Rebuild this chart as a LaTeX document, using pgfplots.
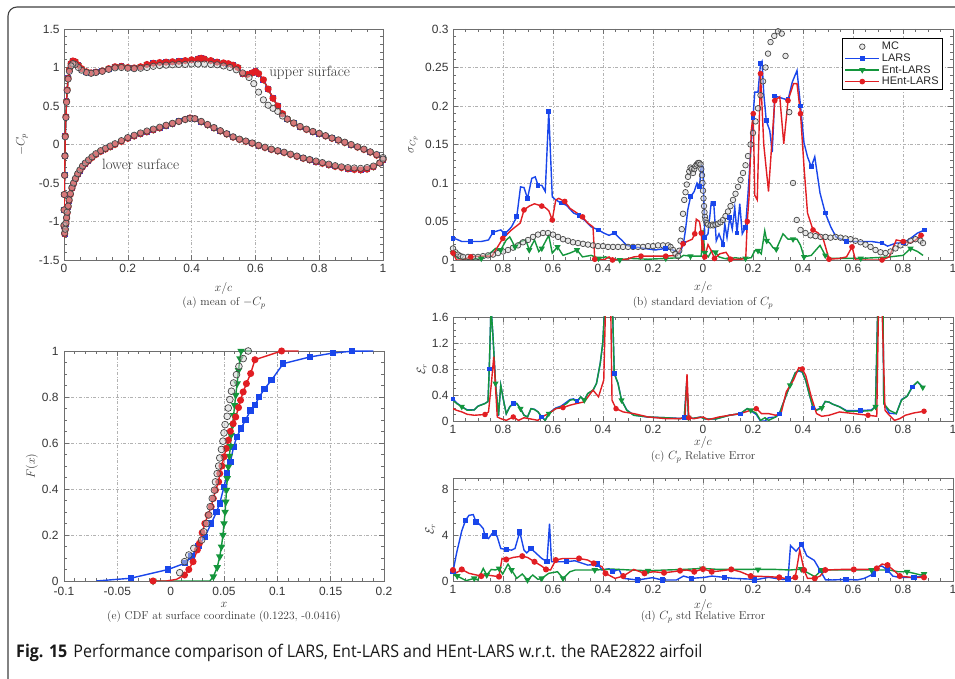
\documentclass[border=0pt]{standalone}
\usepackage{fontspec}
\usepackage{pgfplots}
\usepackage{pgfplotstable}
\pgfplotsset{compat=1.18}
\newfontfamily\tickfont{Liberation Sans}
\newfontfamily\capfont[FakeStretch=0.92]{Open Sans}

\definecolor{lblue}{RGB}{25,70,235}
\definecolor{lgreen}{RGB}{20,150,60}
\definecolor{lred}{RGB}{225,30,35}
\definecolor{axgray}{RGB}{110,110,110}
\definecolor{txtgray}{RGB}{55,55,55}
\definecolor{mcedge}{RGB}{70,70,70}

\pgfplotsset{
  mstyle/.style={
    scale only axis,
    axis line style={axgray, line width=0.9bp},
    every tick/.style={axgray, line width=0.6bp},
    tick align=inside,
    tick pos=both,
    major tick length=5bp,
    minor tick length=3bp,
    grid=major,
    major grid style={dash dot, gray!60, line width=0.55bp},
    ticklabel style={font=\tickfont\fontsize{12}{12}\selectfont, text=txtgray},
    label style={font=\fontsize{12}{14}\selectfont, text=txtgray},
    xticklabel shift=1bp,
    yticklabel shift=1bp,
  },
  mcmark/.style={only marks, mark=*, mark size=#1,
    mark options={draw=mcedge, fill=gray!35, fill opacity=0.5, line width=0.7bp}},
  larsline/.style={lblue, line width=1.4bp, mark=square*, mark size=#1,
    mark options={solid, fill=lblue}},
  entline/.style={lgreen, line width=1.4bp, mark=triangle*, mark size=#1,
    mark options={solid, fill=lgreen, rotate=180}},
  hentline/.style={lred, line width=1.4bp, mark=*, mark size=#1,
    mark options={solid, fill=lred}},
}

% mean of -Cp along the airfoil (upper TE -> LE -> lower TE)
\pgfplotstableread{
x y
1.00 -0.17
0.98 -0.13
0.96 -0.095
0.94 -0.06
0.92 -0.03
0.90 0.00
0.88 0.03
0.86 0.06
0.84 0.085
0.82 0.115
0.80 0.145
0.78 0.17
0.76 0.20
0.74 0.235
0.72 0.28
0.70 0.33
0.685 0.37
0.67 0.43
0.655 0.47
0.64 0.51
0.625 0.58
0.61 0.68
0.595 0.79
0.58 0.87
0.56 0.93
0.54 0.97
0.52 1.00
0.50 1.02
0.48 1.035
0.46 1.04
0.44 1.045
0.42 1.045
0.40 1.045
0.38 1.04
0.36 1.04
0.34 1.035
0.32 1.03
0.30 1.025
0.28 1.015
0.26 1.00
0.24 0.99
0.22 0.985
0.20 0.99
0.18 1.00
0.16 0.995
0.14 0.975
0.12 0.95
0.10 0.935
0.085 0.925
0.07 0.935
0.055 0.965
0.045 1.00
0.035 1.04
0.028 1.05
0.022 1.02
0.017 0.95
0.013 0.85
0.010 0.70
0.008 0.55
0.006 0.35
0.004 0.10
0.003 -0.15
0.002 -0.40
0.001 -0.65
0.0005 -0.85
0.000 -1.05
0.002 -1.15
0.004 -1.10
0.006 -1.02
0.008 -0.95
0.010 -0.88
0.013 -0.80
0.016 -0.72
0.020 -0.64
0.025 -0.56
0.030 -0.50
0.036 -0.44
0.043 -0.38
0.050 -0.33
0.058 -0.28
0.067 -0.24
0.077 -0.20
0.088 -0.16
0.10 -0.12
0.115 -0.08
0.13 -0.05
0.145 -0.02
0.16 0.01
0.18 0.05
0.20 0.09
0.22 0.12
0.24 0.15
0.26 0.175
0.28 0.20
0.30 0.225
0.32 0.25
0.34 0.275
0.36 0.30
0.38 0.325
0.395 0.34
0.41 0.335
0.43 0.30
0.45 0.26
0.47 0.22
0.49 0.18
0.51 0.14
0.53 0.10
0.55 0.07
0.57 0.045
0.59 0.02
0.61 -0.01
0.63 -0.035
0.65 -0.06
0.67 -0.08
0.69 -0.10
0.71 -0.125
0.73 -0.15
0.75 -0.175
0.77 -0.195
0.79 -0.215
0.81 -0.235
0.83 -0.255
0.85 -0.275
0.87 -0.29
0.89 -0.30
0.91 -0.305
0.93 -0.31
0.95 -0.30
0.97 -0.28
0.99 -0.24
1.00 -0.19
}\meanMC

\pgfplotstableread{
x y
1.00 -0.19
0.98 -0.14
0.96 -0.10
0.94 -0.065
0.92 -0.035
0.90 -0.005
0.88 0.025
0.86 0.055
0.84 0.08
0.82 0.11
0.80 0.14
0.78 0.165
0.76 0.195
0.74 0.23
0.72 0.275
0.70 0.33
0.685 0.40
0.67 0.50
0.655 0.60
0.64 0.72
0.625 0.84
0.61 0.92
0.60 0.95
0.59 0.93
0.575 0.91
0.56 0.92
0.545 1.00
0.53 1.03
0.515 1.05
0.50 1.06
0.48 1.07
0.46 1.09
0.44 1.11
0.43 1.12
0.42 1.11
0.40 1.10
0.38 1.09
0.36 1.08
0.34 1.075
0.32 1.07
0.30 1.065
0.28 1.055
0.26 1.04
0.24 1.01
0.22 0.995
0.20 1.00
0.18 1.015
0.16 1.01
0.14 0.985
0.12 0.955
0.10 0.94
0.085 0.93
0.07 0.945
0.055 0.985
0.045 1.03
0.035 1.075
0.028 1.085
0.022 1.05
0.017 0.97
0.013 0.86
0.010 0.71
0.008 0.56
0.006 0.36
0.004 0.11
0.003 -0.15
0.002 -0.40
0.001 -0.65
0.0005 -0.85
0.000 -1.06
0.002 -1.16
0.004 -1.11
0.006 -1.03
0.008 -0.96
0.010 -0.89
0.013 -0.81
0.016 -0.73
0.020 -0.65
0.025 -0.57
0.030 -0.51
0.036 -0.45
0.043 -0.39
0.050 -0.34
0.058 -0.29
0.067 -0.25
0.077 -0.21
0.088 -0.17
0.10 -0.13
0.115 -0.09
0.13 -0.06
0.145 -0.03
0.16 0.00
0.18 0.04
0.20 0.08
0.22 0.11
0.24 0.14
0.26 0.165
0.28 0.19
0.30 0.215
0.32 0.245
0.34 0.27
0.36 0.30
0.38 0.325
0.395 0.345
0.41 0.335
0.43 0.295
0.45 0.255
0.47 0.215
0.49 0.175
0.51 0.135
0.53 0.095
0.55 0.065
0.57 0.04
0.59 0.015
0.61 -0.015
0.63 -0.04
0.65 -0.065
0.67 -0.085
0.69 -0.105
0.71 -0.13
0.73 -0.155
0.75 -0.18
0.77 -0.20
0.79 -0.225
0.81 -0.245
0.83 -0.265
0.85 -0.285
0.87 -0.30
0.89 -0.315
0.91 -0.325
0.93 -0.33
0.95 -0.32
0.97 -0.29
0.99 -0.24
1.00 -0.20
}\meanHE

\begin{document}
\begin{tikzpicture}[x=1bp,y=1bp]
\useasboundingbox (0,0) rectangle (955,679);
\fill[white] (0,0) rectangle (955,679);
\draw[black!75, line width=1.1bp, rounded corners=9bp] (8,-3) -- (8,672) -- (970,672);

% ---------------- (a) mean of -Cp ----------------
\begin{axis}[mstyle, at={(64bp,419bp)}, anchor=south west, width=319bp, height=231bp,
  xmin=0, xmax=1, ymin=-1.5, ymax=1.5,
  xtick={0,0.2,0.4,0.6,0.8,1}, xticklabels={0,0.2,0.4,0.6,0.8,1},
  ytick={-1.5,-1,-0.5,0,0.5,1,1.5}, yticklabels={-1.5,-1,-0.5,0,0.5,1,1.5},
  minor x tick num=3, minor y tick num=4,
  xlabel={$x/c$}, ylabel={$-C_p$},
  xlabel style={at={(axis description cs:0.5,-0.125)}, anchor=center},
  ylabel style={at={(axis description cs:-0.132,0.5)}, anchor=center},
]
\addplot[larsline=2.2] table[x=x,y=y] {\meanHE};
\addplot[entline=2.6] table[x=x,y=y] {\meanHE};
\addplot[hentline=2.8] table[x=x,y=y] {\meanHE};
\addplot[mcmark=3.2] table[x=x,y=y] {\meanMC};
\node[font=\fontsize{15}{17}\selectfont, text=black!80] at (axis cs:0.77,0.93) {upper surface};
\node[font=\fontsize{15}{17}\selectfont, text=black!80] at (axis cs:0.24,-0.26) {lower surface};
\end{axis}
\node[font=\fontsize{11.5}{13}\selectfont, text=txtgray] at (224,376) {(a) mean of $-C_p$};

% ---------------- (b) standard deviation of Cp ----------------
\begin{axis}[mstyle, at={(453bp,419bp)}, anchor=south west, width=500bp, height=231bp,
  xmin=-1, xmax=1, ymin=0, ymax=0.3,
  xtick={-1,-0.8,-0.6,-0.4,-0.2,0,0.2,0.4,0.6,0.8,1},
  xticklabels={1,0.8,0.6,0.4,0.2,0,0.2,0.4,0.6,0.8,1},
  ytick={0,0.05,0.1,0.15,0.2,0.25,0.3}, yticklabels={0,0.05,0.1,0.15,0.2,0.25,0.3},
  minor x tick num=3, minor y tick num=4,
  xlabel={$x/c$}, ylabel={$\sigma_{C_p}$},
  xlabel style={at={(axis description cs:0.5,-0.121)}, anchor=center},
  ylabel style={at={(axis description cs:-0.08,0.5)}, anchor=center},
  legend style={at={(0.98,0.96)}, anchor=north east, draw=black, line width=0.8bp,
    font=\tickfont\fontsize{11}{12}\selectfont, text=black!85, row sep=-1.5bp,
    inner xsep=2bp, inner ysep=1.5bp, cells={anchor=west}},
  legend image code/.code={\draw[mark repeat=2, mark phase=2, #1] plot coordinates {(0bp,0bp) (17bp,0bp) (34bp,0bp)};},
]
\addplot[mcmark=2.8] table {
-1.000 0.015
-0.990 0.010
-0.980 0.007
-0.970 0.005
-0.960 0.004
-0.940 0.004
-0.920 0.004
-0.900 0.004
-0.880 0.005
-0.860 0.006
-0.840 0.007
-0.820 0.009
-0.800 0.011
-0.780 0.013
-0.760 0.016
-0.740 0.019
-0.720 0.023
-0.700 0.026
-0.680 0.030
-0.660 0.033
-0.640 0.035
-0.620 0.035
-0.600 0.033
-0.580 0.030
-0.560 0.027
-0.540 0.025
-0.520 0.023
-0.500 0.022
-0.480 0.021
-0.460 0.020
-0.440 0.019
-0.420 0.018
-0.400 0.018
-0.380 0.017
-0.360 0.017
-0.340 0.017
-0.320 0.017
-0.300 0.017
-0.280 0.017
-0.260 0.017
-0.240 0.017
-0.220 0.018
-0.200 0.018
-0.180 0.019
-0.160 0.019
-0.140 0.019
-0.130 0.017
-0.120 0.013
-0.110 0.008
-0.100 0.005
-0.095 0.012
-0.090 0.025
-0.085 0.040
-0.080 0.060
-0.075 0.078
-0.070 0.088
-0.065 0.098
-0.060 0.108
-0.055 0.115
-0.050 0.120
-0.045 0.118
-0.040 0.113
-0.035 0.118
-0.030 0.122
-0.025 0.124
-0.020 0.126
-0.015 0.126
-0.010 0.124
-0.007 0.118
-0.004 0.110
-0.002 0.100
0.000 0.090
0.002 0.080
0.004 0.070
0.006 0.062
0.008 0.056
0.010 0.052
0.015 0.048
0.020 0.046
0.030 0.045
0.040 0.045
0.050 0.046
0.060 0.047
0.070 0.049
0.080 0.052
0.090 0.057
0.100 0.063
0.110 0.070
0.120 0.078
0.130 0.086
0.140 0.095
0.150 0.104
0.160 0.113
0.170 0.123
0.180 0.135
0.190 0.150
0.200 0.165
0.210 0.180
0.220 0.197
0.230 0.214
0.240 0.232
0.250 0.250
0.260 0.268
0.270 0.283
0.285 0.291
0.300 0.297
0.315 0.294
0.330 0.265
0.345 0.192
0.360 0.100
0.375 0.052
0.390 0.039
0.410 0.035
0.430 0.032
0.450 0.031
0.470 0.030
0.490 0.030
0.510 0.029
0.530 0.030
0.550 0.029
0.570 0.028
0.590 0.027
0.610 0.025
0.630 0.023
0.650 0.020
0.670 0.017
0.690 0.013
0.710 0.010
0.730 0.009
0.750 0.011
0.770 0.015
0.790 0.019
0.810 0.022
0.830 0.025
0.850 0.027
0.870 0.025
0.880 0.022
};
\addlegendentry{MC}
\addplot[larsline=1.7, mark repeat=3] table {
-1.000 0.028
-0.986 0.027
-0.965 0.024
-0.929 0.024
-0.887 0.024
-0.858 0.026
-0.840 0.036
-0.820 0.038
-0.809 0.039
-0.794 0.034
-0.780 0.038
-0.766 0.043
-0.745 0.056
-0.730 0.095
-0.716 0.094
-0.702 0.080
-0.685 0.106
-0.671 0.108
-0.660 0.097
-0.645 0.097
-0.631 0.089
-0.617 0.193
-0.603 0.082
-0.589 0.078
-0.567 0.074
-0.546 0.071
-0.518 0.061
-0.496 0.058
-0.475 0.052
-0.447 0.043
-0.418 0.039
-0.397 0.035
-0.376 0.032
-0.355 0.035
-0.326 0.026
-0.305 0.019
-0.277 0.017
-0.234 0.015
-0.191 0.013
-0.149 0.015
-0.121 0.013
-0.092 0.009
-0.078 0.022
-0.070 0.039
-0.061 0.065
-0.050 0.082
-0.035 0.089
-0.024 0.100
-0.014 0.095
-0.007 0.123
0.000 0.121
0.007 0.029
0.020 0.034
0.033 0.075
0.043 0.073
0.053 0.025
0.064 0.034
0.080 0.020
0.087 0.047
0.096 0.029
0.107 0.055
0.117 0.040
0.127 0.068
0.136 0.035
0.147 0.073
0.157 0.034
0.170 0.042
0.180 0.086
0.190 0.138
0.200 0.185
0.207 0.218
0.220 0.218
0.230 0.255
0.236 0.258
0.243 0.216
0.253 0.181
0.267 0.168
0.277 0.140
0.287 0.213
0.307 0.211
0.327 0.209
0.340 0.208
0.357 0.231
0.376 0.246
0.390 0.200
0.404 0.152
0.418 0.134
0.433 0.121
0.447 0.134
0.468 0.087
0.489 0.061
0.511 0.043
0.532 0.030
0.574 0.024
0.631 0.024
0.674 0.024
0.716 0.022
0.738 0.018
0.773 0.022
0.801 0.022
0.830 0.028
0.858 0.035
0.887 0.039
};
\addlegendentry{LARS}
\addplot[entline=2.3, mark repeat=3] table {
-1.000 0.009
-0.979 0.002
-0.929 0.001
-0.887 0.002
-0.851 0.009
-0.830 0.015
-0.809 0.013
-0.787 0.026
-0.773 0.030
-0.752 0.017
-0.730 0.024
-0.709 0.026
-0.695 0.013
-0.674 0.026
-0.657 0.011
-0.645 0.015
-0.617 0.032
-0.603 0.009
-0.582 0.017
-0.560 0.006
-0.532 0.009
-0.504 0.013
-0.482 0.004
-0.447 0.006
-0.418 0.002
-0.390 0.004
-0.362 0.001
-0.333 0.000
-0.291 0.002
-0.220 0.001
-0.149 0.002
-0.092 0.003
-0.078 0.006
-0.050 0.005
-0.007 0.005
0.000 0.039
0.007 0.009
0.021 0.004
0.035 0.012
0.050 0.010
0.064 0.004
0.085 0.002
0.106 0.001
0.128 0.003
0.149 0.002
0.170 0.002
0.193 0.003
0.207 0.012
0.220 0.012
0.233 0.008
0.247 0.038
0.255 0.025
0.267 0.022
0.280 0.016
0.293 0.014
0.320 0.034
0.340 0.027
0.360 0.027
0.376 0.027
0.390 0.019
0.404 0.004
0.433 0.006
0.468 0.019
0.489 0.006
0.511 0.002
0.574 0.002
0.631 0.002
0.745 0.004
0.801 0.006
0.830 0.015
0.858 0.011
0.880 0.006
};
\addlegendentry{Ent-LARS}
\addplot[hentline=2.1, mark repeat=3] table {
-1.000 0.009
-0.986 0.000
-0.965 0.000
-0.929 0.004
-0.887 0.005
-0.844 0.005
-0.801 0.028
-0.766 0.039
-0.731 0.048
-0.716 0.065
-0.695 0.070
-0.674 0.073
-0.645 0.070
-0.631 0.068
-0.617 0.064
-0.603 0.052
-0.589 0.078
-0.577 0.080
-0.553 0.076
-0.532 0.067
-0.504 0.061
-0.482 0.056
-0.461 0.048
-0.440 0.043
-0.433 0.001
-0.397 0.000
-0.376 0.004
-0.362 0.000
-0.305 0.001
-0.277 0.004
-0.248 0.005
-0.220 0.005
-0.191 0.005
-0.149 0.005
-0.107 0.006
-0.093 0.012
-0.080 0.021
-0.064 0.024
-0.043 0.027
-0.033 0.034
-0.027 0.053
-0.014 0.050
-0.007 0.035
-0.003 0.012
0.000 0.023
0.007 0.004
0.020 0.020
0.033 0.012
0.046 0.002
0.067 0.008
0.092 0.010
0.110 0.001
0.149 0.001
0.171 0.002
0.177 0.050
0.184 0.081
0.193 0.168
0.201 0.190
0.207 0.084
0.217 0.078
0.230 0.242
0.243 0.150
0.262 0.089
0.287 0.207
0.307 0.212
0.323 0.151
0.340 0.207
0.362 0.229
0.376 0.229
0.390 0.190
0.404 0.121
0.418 0.061
0.440 0.039
0.461 0.035
0.482 0.026
0.504 0.001
0.546 0.002
0.574 0.004
0.596 0.017
0.610 0.000
0.660 0.000
0.716 0.000
0.745 0.004
0.773 0.026
0.801 0.024
0.830 0.022
0.851 0.026
0.872 0.032
0.884 0.032
};
\addlegendentry{HEnt-LARS}
\end{axis}
\node[font=\fontsize{11.5}{13}\selectfont, text=txtgray] at (703,376) {(b) standard deviation of $C_p$};

% ---------------- (c) Cp relative error ----------------
\begin{axis}[mstyle, at={(453bp,258bp)}, anchor=south west, width=500bp, height=104bp,
  xmin=-1, xmax=1, ymin=0, ymax=1.6,
  xtick={-1,-0.8,-0.6,-0.4,-0.2,0,0.2,0.4,0.6,0.8,1},
  xticklabels={1,0.8,0.6,0.4,0.2,0,0.2,0.4,0.6,0.8,1},
  ytick={0,0.4,0.8,1.2,1.6}, yticklabels={0,0.4,0.8,1.2,1.6},
  minor x tick num=3, minor y tick num=3,
  xlabel={$x/c$}, ylabel={$\mathcal{E}_r$},
  xlabel style={at={(axis description cs:0.5,-0.21)}, anchor=center},
  ylabel style={at={(axis description cs:-0.062,0.5)}, anchor=center},
]
\addplot[larsline=1.6, mark repeat=8] table {
-1.000 0.34
-0.986 0.28
-0.965 0.22
-0.943 0.17
-0.915 0.17
-0.900 0.23
-0.872 0.27
-0.860 0.30
-0.855 0.80
-0.848 1.75
-0.840 1.30
-0.830 0.58
-0.818 0.08
-0.809 0.55
-0.798 0.32
-0.787 0.11
-0.773 0.22
-0.759 0.27
-0.745 0.27
-0.730 0.19
-0.716 0.09
-0.702 0.06
-0.688 0.19
-0.674 0.18
-0.660 0.14
-0.645 0.06
-0.631 0.01
-0.617 0.12
-0.589 0.20
-0.567 0.23
-0.546 0.29
-0.532 0.33
-0.518 0.34
-0.504 0.31
-0.489 0.37
-0.475 0.32
-0.461 0.42
-0.440 0.47
-0.426 0.58
-0.411 0.89
-0.401 1.20
-0.393 1.75
-0.362 1.75
-0.355 0.73
-0.340 0.58
-0.326 0.32
-0.305 0.17
-0.277 0.09
-0.220 0.06
-0.149 0.05
-0.092 0.04
-0.075 0.05
-0.065 0.60
-0.058 0.05
-0.040 0.04
-0.010 0.06
0.010 0.03
0.050 0.03
0.106 0.09
0.149 0.11
0.177 0.19
0.191 0.16
0.213 0.10
0.230 0.00
0.248 0.00
0.262 0.05
0.290 0.06
0.305 0.11
0.333 0.40
0.348 0.55
0.369 0.74
0.383 0.77
0.397 0.75
0.411 0.62
0.426 0.40
0.440 0.20
0.454 0.17
0.475 0.21
0.489 0.30
0.504 0.29
0.518 0.26
0.546 0.22
0.574 0.16
0.631 0.16
0.674 0.17
0.690 0.23
0.699 1.75
0.720 1.75
0.723 0.27
0.745 0.12
0.773 0.11
0.794 0.33
0.816 0.38
0.837 0.52
0.858 0.60
0.879 0.52
};
\addplot[entline=2.2, mark repeat=8, mark phase=3] table {
-1.000 0.32
-0.986 0.27
-0.965 0.22
-0.943 0.165
-0.915 0.17
-0.900 0.227
-0.872 0.268
-0.860 0.30
-0.855 0.80
-0.848 1.75
-0.840 1.30
-0.830 0.578
-0.818 0.088
-0.809 0.55
-0.798 0.32
-0.787 0.11
-0.773 0.217
-0.759 0.268
-0.745 0.268
-0.730 0.19
-0.716 0.088
-0.702 0.062
-0.688 0.19
-0.674 0.175
-0.660 0.14
-0.645 0.062
-0.631 0.01
-0.617 0.114
-0.589 0.19
-0.567 0.217
-0.546 0.268
-0.532 0.32
-0.518 0.33
-0.504 0.294
-0.489 0.372
-0.475 0.32
-0.461 0.423
-0.440 0.475
-0.426 0.578
-0.411 0.888
-0.401 1.20
-0.393 1.75
-0.362 1.75
-0.355 0.733
-0.340 0.578
-0.326 0.32
-0.305 0.165
-0.277 0.088
-0.220 0.062
-0.149 0.05
-0.092 0.036
-0.075 0.05
-0.065 0.60
-0.058 0.05
-0.040 0.04
-0.010 0.06
0.010 0.03
0.050 0.03
0.106 0.088
0.149 0.114
0.177 0.19
0.191 0.165
0.213 0.12
0.230 0.01
0.248 0.05
0.262 0.01
0.290 0.06
0.305 0.11
0.333 0.40
0.348 0.55
0.369 0.74
0.383 0.78
0.397 0.76
0.411 0.62
0.426 0.40
0.440 0.217
0.454 0.165
0.475 0.20
0.489 0.30
0.504 0.29
0.518 0.26
0.546 0.217
0.574 0.15
0.631 0.15
0.674 0.16
0.690 0.22
0.699 1.75
0.720 1.75
0.723 0.268
0.745 0.165
0.773 0.114
0.794 0.32
0.816 0.38
0.837 0.526
0.858 0.604
0.879 0.516
};
\addplot[hentline=2.0, mark repeat=8, mark phase=6] table {
-1.000 0.19
-0.986 0.165
-0.965 0.14
-0.943 0.103
-0.915 0.088
-0.872 0.10
-0.858 0.139
-0.846 0.60
-0.837 0.99
-0.830 0.526
-0.823 0.062
-0.809 0.036
-0.787 0.01
-0.759 0.062
-0.738 0.01
-0.716 0.05
-0.688 0.03
-0.660 0.01
-0.645 0.062
-0.617 0.114
-0.589 0.19
-0.560 0.206
-0.532 0.243
-0.504 0.27
-0.475 0.294
-0.440 0.475
-0.418 0.372
-0.397 0.63
-0.390 1.75
-0.369 1.75
-0.364 0.32
-0.348 0.19
-0.319 0.139
-0.277 0.114
-0.220 0.062
-0.149 0.036
-0.092 0.036
-0.072 0.05
-0.064 0.72
-0.057 0.05
-0.035 0.036
0.000 0.062
0.021 0.02
0.064 0.062
0.106 0.088
0.149 0.114
0.191 0.165
0.213 0.19
0.234 0.114
0.262 0.114
0.291 0.088
0.312 0.114
0.333 0.449
0.362 0.63
0.383 0.82
0.397 0.80
0.411 0.70
0.433 0.372
0.454 0.114
0.475 0.072
0.504 0.088
0.546 0.139
0.603 0.114
0.660 0.088
0.695 0.072
0.702 1.75
0.716 1.75
0.728 0.165
0.745 0.088
0.766 0.01
0.787 0.036
0.809 0.088
0.844 0.124
0.884 0.15
};
\end{axis}
\node[font=\fontsize{11.5}{13}\selectfont, text=txtgray] at (703,222) {(c) $C_p$ Relative Error};

% ---------------- (d) Cp std relative error ----------------
\begin{axis}[mstyle, at={(453bp,98bp)}, anchor=south west, width=500bp, height=103bp,
  xmin=-1, xmax=1, ymin=0, ymax=9,
  xtick={-1,-0.8,-0.6,-0.4,-0.2,0,0.2,0.4,0.6,0.8,1},
  xticklabels={1,0.8,0.6,0.4,0.2,0,0.2,0.4,0.6,0.8,1},
  ytick={0,4,8}, yticklabels={0,4,8},
  minor x tick num=3, minor y tick num=3,
  xlabel={$x/c$}, ylabel={$\mathcal{E}_r$},
  xlabel style={at={(axis description cs:0.5,-0.235)}, anchor=center},
  ylabel style={at={(axis description cs:-0.045,0.5)}, anchor=center},
]
\addplot[larsline=2.0, mark repeat=3] table {
-1.000 0.81
-0.986 2.41
-0.965 4.38
-0.950 5.30
-0.936 5.74
-0.919 5.80
-0.908 5.16
-0.894 4.96
-0.879 4.58
-0.872 3.94
-0.858 3.71
-0.844 4.14
-0.833 4.20
-0.823 3.86
-0.809 2.84
-0.787 2.75
-0.766 2.70
-0.752 2.84
-0.733 4.29
-0.716 2.70
-0.705 2.46
-0.688 2.84
-0.667 2.41
-0.645 1.97
-0.624 1.68
-0.614 5.01
-0.606 1.68
-0.546 1.68
-0.513 1.77
-0.461 1.39
-0.421 1.48
-0.404 0.96
-0.376 1.07
-0.362 0.81
-0.336 1.01
-0.319 0.23
-0.262 0.09
-0.220 0.23
-0.203 0.29
-0.163 0.09
-0.106 0.09
-0.078 0.43
-0.045 0.23
0.007 0.32
0.035 0.43
0.085 0.32
0.121 0.23
0.184 0.17
0.206 0.09
0.262 0.32
0.319 0.14
0.340 0.17
0.350 3.10
0.372 2.60
0.395 3.20
0.415 2.20
0.445 1.80
0.469 0.90
0.490 0.10
0.518 0.09
0.572 0.14
0.617 0.09
0.645 0.23
0.681 0.61
0.695 1.25
0.716 1.30
0.738 0.96
0.759 0.43
0.784 0.32
0.844 0.32
0.884 0.43
};
\addplot[entline=2.4, mark repeat=3, mark phase=2] table {
-1.000 0.52
-0.983 0.43
-0.965 0.23
-0.948 0.03
-0.915 0.23
-0.901 0.09
-0.879 1.10
-0.865 0.52
-0.847 1.01
-0.830 0.96
-0.816 1.10
-0.801 0.61
-0.780 1.48
-0.766 0.96
-0.745 0.23
-0.723 0.61
-0.702 0.09
-0.681 0.52
-0.660 0.14
-0.645 0.23
-0.617 0.67
-0.582 0.81
-0.560 0.23
-0.532 0.81
-0.511 0.96
-0.433 0.96
-0.362 1.04
-0.291 0.96
-0.220 0.90
-0.149 0.96
-0.078 1.01
-0.003 1.10
0.064 1.01
0.146 1.01
0.220 1.01
0.291 1.01
0.348 0.96
0.393 1.04
0.411 0.81
0.447 0.38
0.475 0.96
0.518 0.96
0.603 0.96
0.674 0.96
0.745 0.96
0.780 0.81
0.816 0.81
0.844 0.67
0.872 0.52
0.884 0.61
};
\addplot[hentline=2.3, mark repeat=2] table {
-1.000 0.96
-0.986 0.72
-0.965 1.01
-0.936 0.67
-0.887 0.43
-0.865 0.52
-0.816 0.38
-0.804 1.97
-0.787 1.88
-0.759 2.06
-0.723 2.17
-0.702 2.06
-0.674 1.68
-0.645 1.30
-0.628 1.01
-0.610 0.96
-0.589 1.83
-0.560 1.97
-0.496 1.97
-0.461 1.83
-0.437 1.54
-0.404 1.25
-0.390 0.67
-0.352 0.23
-0.319 0.43
-0.277 1.01
-0.234 0.67
-0.199 0.81
-0.156 0.72
-0.121 0.81
-0.092 0.90
-0.064 0.96
-0.035 0.81
-0.014 0.96
0.000 1.04
0.014 0.96
0.035 0.81
0.064 0.87
0.113 1.01
0.149 0.81
0.191 0.43
0.262 0.38
0.305 0.32
0.343 0.17
0.369 0.32
0.387 2.70
0.404 0.96
0.418 0.23
0.447 0.23
0.468 0.43
0.489 0.96
0.553 1.01
0.603 1.01
0.660 1.01
0.695 1.10
0.716 1.48
0.738 1.39
0.766 0.87
0.787 0.43
0.830 0.32
0.884 0.32
};
\end{axis}
\node[font=\fontsize{11.5}{13}\selectfont, text=txtgray] at (703,62) {(d) $C_p$ std Relative Error};

% ---------------- (e) CDF ----------------
\begin{axis}[mstyle, at={(64bp,98bp)}, anchor=south west, width=320bp, height=230bp,
  xmin=-0.1, xmax=0.2, ymin=0, ymax=1,
  xtick={-0.1,-0.05,0,0.05,0.1,0.15,0.2}, xticklabels={-0.1,-0.05,0,0.05,0.1,0.15,0.2},
  ytick={0,0.2,0.4,0.6,0.8,1}, yticklabels={0,0.2,0.4,0.6,0.8,1},
  minor x tick num=4, minor y tick num=3,
  xlabel={$x$}, ylabel={$F(x)$},
  xlabel style={at={(axis description cs:0.5,-0.106)}, anchor=center},
  ylabel style={at={(axis description cs:-0.10,0.5)}, anchor=center},
  yticklabel shift=2bp, xticklabel shift=3bp,
]
\addplot[larsline=2.5, mark indices={2,3,4,5,6,7,8,9,10,11,12,13,14,15,16,17,18,19,20,21,22,23,24,25,26}] table {
-0.0697 0.000
-0.0374 0.012
-0.0024 0.050
0.0132 0.077
0.0195 0.106
0.0260 0.152
0.0320 0.192
0.0380 0.250
0.0430 0.300
0.0460 0.337
0.0500 0.410
0.0530 0.467
0.0560 0.518
0.0590 0.583
0.0620 0.627
0.0660 0.663
0.0700 0.699
0.0750 0.742
0.0790 0.764
0.0830 0.800
0.0880 0.836
0.0945 0.873
0.1055 0.945
0.1305 0.974
0.1520 0.991
0.1700 0.999
0.1900 1.000
};
\addplot[entline=3.0, mark indices={1,3,4,5,6,7,8,9,10,11,12,13,14,15,16,17,18,19,20,21,22,23,24}] table {
-0.0165 0.000
0.0367 0.000
0.0400 0.019
0.0436 0.059
0.0460 0.106
0.0476 0.149
0.0490 0.200
0.0500 0.250
0.0510 0.300
0.0517 0.344
0.0523 0.395
0.0530 0.446
0.0540 0.496
0.0550 0.543
0.0560 0.586
0.0567 0.634
0.0580 0.677
0.0590 0.720
0.0600 0.764
0.0610 0.808
0.0623 0.858
0.0636 0.916
0.0650 0.967
0.0660 1.000
0.0760 1.000
};
\addplot[hentline=2.8, mark indices={1,4,5,6,7,8,9,10,11,12,13,14,15,16,17,18,19,20,21,22,23,24,25,26,27,28,29,30}] table {
-0.0165 0.000
-0.0040 0.000
0.0054 0.007
0.0130 0.026
0.0170 0.050
0.0210 0.084
0.0250 0.135
0.0270 0.164
0.0295 0.210
0.0320 0.250
0.0350 0.287
0.0380 0.323
0.0400 0.359
0.0420 0.395
0.0450 0.431
0.0460 0.467
0.0480 0.500
0.0500 0.540
0.0520 0.576
0.0540 0.612
0.0560 0.651
0.0586 0.684
0.0610 0.713
0.0636 0.754
0.0655 0.786
0.0680 0.822
0.0710 0.858
0.0750 0.902
0.0790 0.962
0.1040 1.000
0.1200 1.000
};
\addplot[mcmark=3.4] table {
0.0085 0.036
0.0130 0.084
0.0170 0.113
0.0217 0.142
0.0290 0.178
0.0310 0.214
0.0336 0.250
0.0357 0.287
0.0370 0.323
0.0390 0.359
0.0410 0.395
0.0420 0.431
0.0436 0.467
0.0450 0.500
0.0460 0.535
0.0476 0.572
0.0490 0.608
0.0500 0.644
0.0510 0.680
0.0530 0.716
0.0540 0.752
0.0555 0.789
0.0570 0.825
0.0590 0.861
0.0617 0.897
0.0640 0.933
0.0680 0.967
0.0727 1.000
};
\end{axis}
\node[font=\fontsize{11.5}{13}\selectfont, text=txtgray] at (224,62) {(e) CDF at surface coordinate (0.1223, -0.0416)};

% ---------------- figure caption ----------------
\node[anchor=west, inner sep=0pt, font=\capfont\fontsize{17.5}{20}\selectfont, text=black!90] at (16,26)
  {\textbf{Fig. 15}\hspace{6bp}Performance comparison of LARS, Ent-LARS and HEnt-LARS w.r.t. the RAE2822 airfoil};
\end{tikzpicture}
\end{document}
